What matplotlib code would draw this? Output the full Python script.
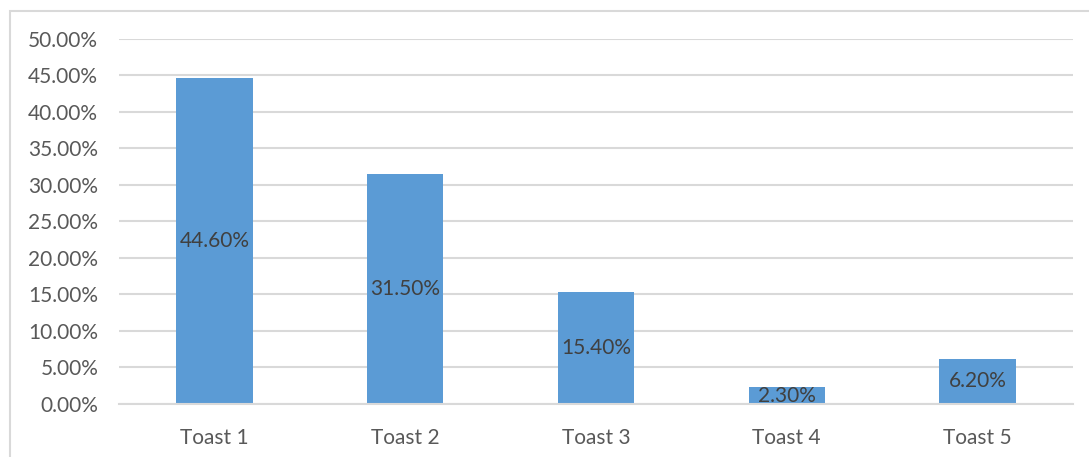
import matplotlib.pyplot as plt
from matplotlib.patches import Rectangle
from matplotlib.ticker import FuncFormatter

categories = ['Toast 1', 'Toast 2', 'Toast 3', 'Toast 4', 'Toast 5']
shares = [0.446, 0.315, 0.154, 0.023, 0.062]
y_ticks = [0.0, 0.05, 0.10, 0.15, 0.20, 0.25, 0.30, 0.35, 0.40, 0.45, 0.50]

plt.rcParams['font.family'] = ['Lato', 'DejaVu Sans']

fig = plt.figure(figsize=(10.89, 4.57), dpi=100)
ax = fig.add_axes([0.1093, 0.116, 0.876, 0.7987])

# outer chart frame
fig.patches.append(Rectangle((10 / 1089, -0.05), 1.2, 1 - 11 / 457 + 0.05,
                             transform=fig.transFigure, fill=False,
                             edgecolor='#d9d9d9', linewidth=1.5))

x = range(len(categories))
ax.bar(x, shares, width=0.40, color='#5b9bd5', zorder=2)
for i, v in zip(x, shares):
    ax.text(i, v / 2, f'{v * 100:.2f}%', ha='center', va='center',
            fontsize=15, color='#404040', zorder=3)

ax.set_xlim(-0.5, len(categories) - 0.5)
ax.set_ylim(0, 0.5)
ax.set_yticks(y_ticks)
ax.yaxis.set_major_formatter(FuncFormatter(lambda v, _: f'{v * 100:.2f}%'))
ax.set_xticks(list(x))
ax.set_xticklabels(categories)
ax.grid(axis='y', color='#d9d9d9', linewidth=1.5, zorder=0)
ax.tick_params(axis='y', length=0, pad=15, labelsize=15, labelcolor='#595959')
ax.tick_params(axis='x', length=0, pad=17, labelsize=15, labelcolor='#595959')
for side in ['top', 'right', 'left']:
    ax.spines[side].set_visible(False)
ax.spines['bottom'].set_color('#d9d9d9')
ax.spines['bottom'].set_linewidth(1.5)

fig.savefig('out.png', dpi=100)
